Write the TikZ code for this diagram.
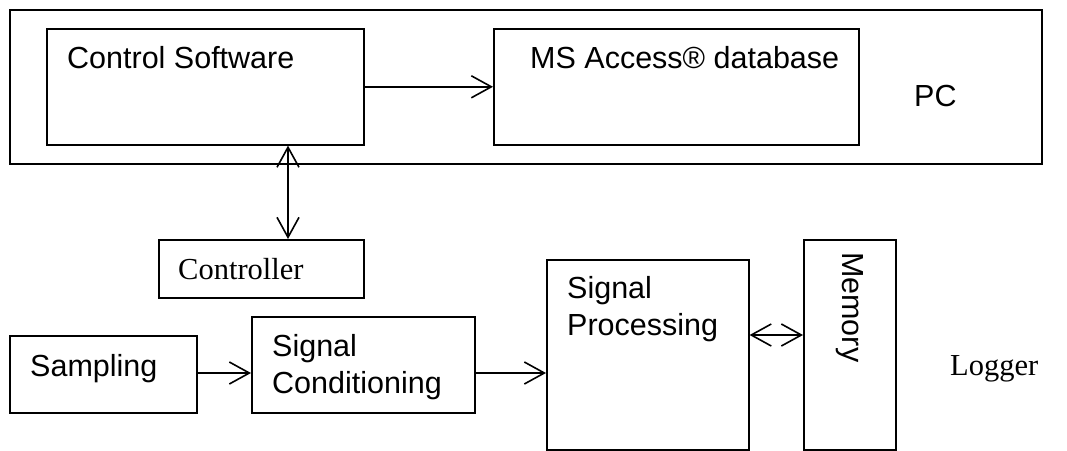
\documentclass[tikz,border=0pt]{standalone}
\usepackage{fontspec}
\setmainfont{Liberation Sans}
\newfontfamily\timesf{Liberation Serif}
\usetikzlibrary{arrows.meta}
\begin{document}
\begin{tikzpicture}[x=1pt,y=-1pt,
  box/.style={draw, line width=1.6pt, inner sep=0pt, anchor=north west},
  lbl/.style={inner sep=0pt, anchor=base west, font=\fontsize{30.5}{36}\selectfont},
  tlbl/.style={inner sep=0pt, anchor=base west, font=\timesf\fontsize{30.5}{36}\selectfont},
  arr/.style={line width=1.6pt, -{Straight Barb[length=20pt,width=22pt,line width=1.6pt]}},
  darr/.style={line width=1.6pt, {Straight Barb[length=20pt,width=22pt,line width=1.6pt]}-{Straight Barb[length=20pt,width=22pt,line width=1.6pt]}}]
\useasboundingbox (0,0) rectangle (1067,450);
% PC
\node[box, minimum width=1032pt, minimum height=154pt] (pc) at (9,9) {};
\node[box, minimum width=317pt, minimum height=116pt] (cs) at (46,28) {};
\node[box, minimum width=365pt, minimum height=116pt] (ms) at (493,28) {};
\node[lbl] (cst) at (67,68) {Control Software};
\node[lbl] (mst) at (530,68) {MS Access® database};
\node[lbl] (pct) at (914,106) {PC};
% controller
\node[box, minimum width=205pt, minimum height=58pt] (ctrl) at (158,239) {};
\node[tlbl] (ctrlt) at (178,279) {Controller};
% logger chain
\node[box, minimum width=187pt, minimum height=77pt] (samp) at (9,335) {};
\node[lbl] (sampt) at (30,376) {Sampling};
\node[box, minimum width=223pt, minimum height=96pt] (cond) at (251,316) {};
\node[lbl] (condt1) at (272,356) {Signal};
\node[lbl] (condt2) at (272,393) {Conditioning};
\node[box, minimum width=202pt, minimum height=190pt] (proc) at (546,259) {};
\node[lbl] (proct1) at (567,298) {Signal};
\node[lbl] (proct2) at (567,335) {Processing};
\node[box, minimum width=92pt, minimum height=210pt] (mem) at (803,239) {};
\node[lbl, rotate=-90] (memt) at (842,252) {Memory};
\node[tlbl] (logt) at (950,375) {Logger};
% connectors
\coordinate (vx) at (288,0);
\coordinate (hy) at (0,373);
\coordinate (my) at (0,335);
\draw[arr] (cs.east) -- (ms.west);
\draw[darr] (cs.south -| vx) -- (ctrl.north -| vx);
\draw[arr] (samp.east |- hy) -- (cond.west |- hy);
\draw[arr] (cond.east |- hy) -- (proc.west |- hy);
\draw[darr] (proc.east |- my) -- (mem.west |- my);
\end{tikzpicture}
\end{document}
